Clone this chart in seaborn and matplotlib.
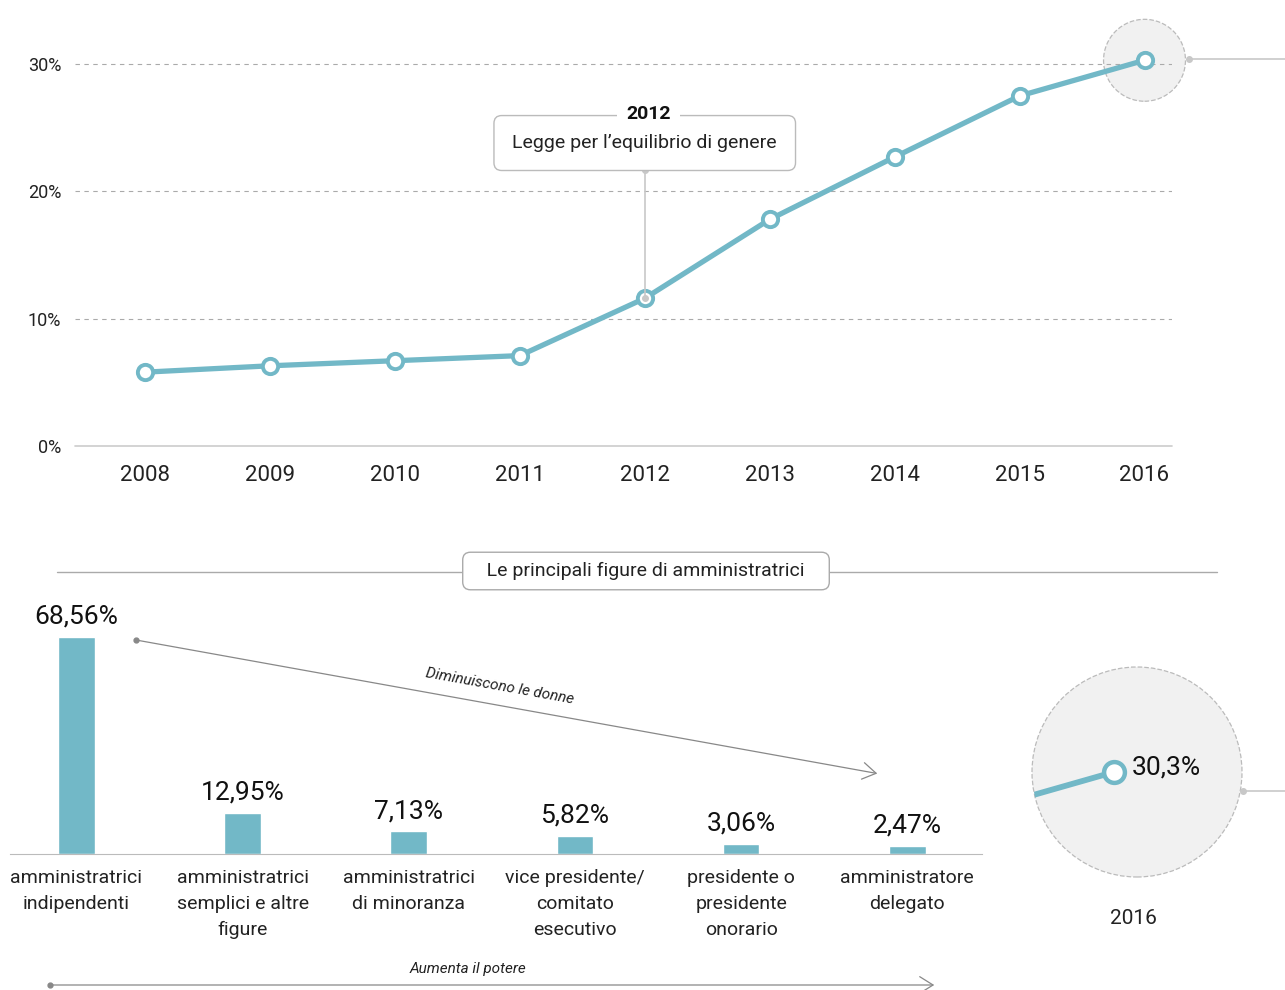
import matplotlib
matplotlib.use("Agg")
import matplotlib.pyplot as plt
import matplotlib.patches as mpatches
from matplotlib.lines import Line2D
import seaborn as sns

# ── Data ──
anni = [2008, 2009, 2010, 2011, 2012, 2013, 2014, 2015, 2016]
quota_donne = [5.8, 6.3, 6.7, 7.1, 11.6, 17.8, 22.7, 27.5, 30.3]

figure = ["amministratrici\nindipendenti",
          "amministratrici\nsemplici e altre\nfigure",
          "amministratrici\ndi minoranza",
          "vice presidente/\ncomitato\nesecutivo",
          "presidente o\npresidente\nonorario",
          "amministratore\ndelegato"]
quota_figure = [68.56, 12.95, 7.13, 5.82, 3.06, 2.47]

y_ticks = [0, 10, 20, 30]

TEAL = "#72b8c7"
GREY = "#aaaaaa"
TXT = "#222222"

sns.set_style("white")
plt.rcParams["font.family"] = ["Roboto", "DejaVu Sans"]

W, H = 1285, 990
fig = plt.figure(figsize=(W / 100, H / 100), dpi=100)


def fx(x):
    return x / W


def fy(y):
    return 1 - y / H


def fig_line(x0, x1, y0, y1, dot=True):
    fig.add_artist(Line2D([fx(x0), fx(x1)], [fy(y0), fy(y1)], color="#c8c8c8", lw=1.2,
                          transform=fig.transFigure))
    if dot:
        fig.add_artist(Line2D([fx(x0)], [fy(y0)], marker="o", ms=4, color="#c8c8c8",
                              transform=fig.transFigure))


# ── Top: line chart ──
ax = fig.add_axes([fx(75), fy(446), fx(1172) - fx(75), fy(10) - fy(446)])
ax.set_xlim(2007.44, 2016.22)
ax.set_ylim(0, 34.25)

# highlight circle around 2016
ax.scatter([2016], [30.3], s=3480, facecolor="#f1f1f1", edgecolor="#bbbbbb",
           linestyle="--", linewidth=0.9, zorder=1, clip_on=False)

for t in y_ticks[1:]:
    ax.axhline(t, color=GREY, lw=0.8, ls=(0, (4, 4)), zorder=2)
ax.axhline(0, color="#cccccc", lw=1.2, zorder=2, clip_on=False)

sns.lineplot(x=anni, y=quota_donne, ax=ax, color=TEAL, lw=3.8, marker="o",
             markersize=11, markerfacecolor="white", markeredgecolor=TEAL,
             markeredgewidth=2.8, zorder=5, clip_on=False)

ax.set_xticks(anni)
ax.set_xticklabels([str(a) for a in anni], fontsize=16, color=TXT)
ax.set_yticks(y_ticks)
ax.set_yticklabels([f"{t}%" for t in y_ticks], fontsize=13, color=TXT)
ax.tick_params(axis="x", length=0, pad=14)
ax.tick_params(axis="y", length=0, pad=10)
sns.despine(ax=ax, left=True, bottom=True)
ax.set_xlabel("")
ax.set_ylabel("")

# annotation 2012
ax.plot([2012, 2012], [11.6, 21.7], color="#c8c8c8", lw=1.2, zorder=6)
ax.plot([2012, 2012], [11.6, 21.7], ls="none", marker="o", ms=4, color="#c8c8c8", zorder=6)
ax.text(2012, 23.8, "Legge per l’equilibrio di genere", ha="center", va="center",
        fontsize=14, color=TXT, zorder=7,
        bbox=dict(boxstyle="round,pad=0.95,rounding_size=0.4", fc="white", ec="#bbbbbb", lw=1))
ax.text(2012.03, 26.1, "2012", ha="center", va="center", fontsize=14, fontweight="bold",
        color="#111111", zorder=8, bbox=dict(boxstyle="square,pad=0.5", fc="white", ec="none"))

fig_line(1189, 1285, 59, 59)

# ── Bottom: section title ──
fig.add_artist(Line2D([fx(57), fx(1217)], [fy(572), fy(572)], color=GREY, lw=1,
                      transform=fig.transFigure))
fig.text(fx(646), fy(571), "   Le principali figure di amministratrici   ", ha="center",
         va="center", fontsize=14, color=TXT,
         bbox=dict(boxstyle="round,pad=0.5,rounding_size=0.4", fc="white", ec="#aaaaaa", lw=1))

# ── Bottom: bar chart ──
ax2 = fig.add_axes([fx(10), fy(854), fx(982) - fx(10), fy(630) - fy(854)])
sns.barplot(x=list(range(len(figure))), y=quota_figure, ax=ax2, color=TEAL, width=0.22,
            saturation=1)
ax2.set_xlim(-0.4, 5.45)
ax2.set_ylim(0, 70.8)
ax2.bar_label(ax2.containers[0],
              labels=[f"{v:.2f}".replace(".", ",") + "%" for v in quota_figure],
              padding=6, fontsize=19, color="#111111")
ax2.set_xticks(range(len(figure)))
ax2.set_xticklabels(figure, fontsize=14, color=TXT, linespacing=1.55, va="top")
ax2.tick_params(axis="x", length=0, pad=11)
ax2.set_yticks([])
ax2.set_xlabel("")
ax2.set_ylabel("")
sns.despine(ax=ax2, left=True)
ax2.spines["bottom"].set_color("#bbbbbb")

# arrows
arrow_kw = dict(arrowstyle="->,head_length=0.8,head_width=0.5", color="#888888", lw=0.9,
                mutation_scale=12)
fig.add_artist(mpatches.FancyArrowPatch((fx(136), fy(640)), (fx(880), fy(774)),
                                        transform=fig.transFigure, **arrow_kw))
fig.add_artist(Line2D([fx(136)], [fy(640)], marker="o", ms=3.5, color="#888888",
                      transform=fig.transFigure))
fig.text(fx(500), fy(686), "Diminuiscono le donne", ha="center", va="center", rotation=-10.2,
         fontsize=11, style="italic", color=TXT, rotation_mode="anchor")
fig.add_artist(mpatches.FancyArrowPatch((fx(50), fy(985)), (fx(937), fy(985)),
                                        transform=fig.transFigure, **arrow_kw))
fig.add_artist(Line2D([fx(50)], [fy(985)], marker="o", ms=3.5, color="#888888",
                      transform=fig.transFigure))
fig.text(fx(468), fy(969), "Aumenta il potere", ha="center", va="center", fontsize=11,
         style="italic", color=TXT)

# ── Zoom circle on 2016 ──
ax3 = fig.add_axes([fx(1032), fy(877), fx(1242) - fx(1032), fy(667) - fy(877)])
ax3.axis("off")
circ = mpatches.Circle((0.5, 0.5), 0.5, transform=ax3.transAxes, fc="#f1f1f1",
                       ec="#bbbbbb", ls="--", lw=0.9, zorder=0, clip_on=False)
ax3.add_patch(circ)
sns.lineplot(x=anni, y=quota_donne, ax=ax3, color=TEAL, lw=4.2, zorder=3)
ax3.plot([anni[-1]], [quota_donne[-1]], ls="none", marker="o", ms=15, mfc="white",
         mec=TEAL, mew=3.2, zorder=4)
for ln in ax3.lines:
    ln.set_clip_path(circ)
ax3.set_xlim(2015.744, 2016.4)
ax3.set_ylim(27.08, 33.52)
ax3.text(2016.055, 30.45, f"{quota_donne[-1]:.1f}".replace(".", ",") + "%", ha="left",
         va="center", fontsize=19, color="#111111")
ax3.set_xlabel("")
ax3.set_ylabel("")
fig.text(fx(1133), fy(918), "2016", ha="center", va="center", fontsize=15, color=TXT)
fig_line(1243, 1285, 791, 791)

fig.savefig("out.png", dpi=100, facecolor="white")
